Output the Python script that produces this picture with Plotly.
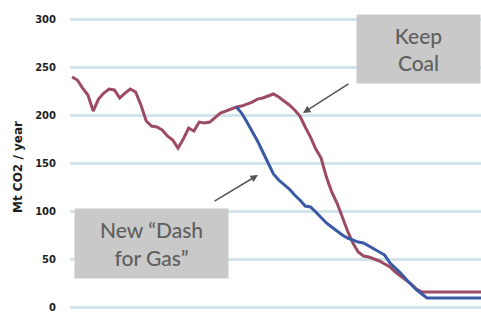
import plotly.graph_objects as go

years = list(range(1970, 2051))

keep_coal = [
    240.3, 237.2, 228.8, 221.5, 204.8, 217.3, 223.6, 227.8, 226.8, 218.4,
    223.6, 227.8, 224.7, 211.1, 194.4, 189.1, 188.1, 185.0, 178.7, 174.5,
    166.1, 175.5, 187.0, 183.9, 193.3, 192.3, 193.3, 198.5, 202.7, 204.8,
    206.9, 209.0, 210.0, 212.1, 214.2, 217.3, 218.4, 220.5, 222.6, 219.4,
    215.3, 211.1, 205.9, 199.6, 188.1, 177.6, 165.1, 155.7, 135.8, 120.2,
    108.7, 94.0, 79.4, 66.9, 57.5, 53.3, 52.2, 50.2, 48.1, 44.9,
    41.8, 36.6, 32.4, 28.2, 24.0, 18.8, 15.7, 15.7, 15.7, 15.7,
    15.7, 15.7, 15.7, 15.7, 15.7, 15.7, 15.7, 15.7, 15.7, 15.7, 15.7,
]

gas_years = list(range(2001, 2051))
dash_for_gas = [
    209.0, 202.7, 193.3, 183.9, 173.5, 162.0, 150.5, 139.0, 132.7, 127.5,
    123.3, 117.0, 111.8, 105.5, 104.5, 99.3, 94.0, 87.8, 83.6, 79.4,
    75.2, 72.1, 70.0, 67.9, 66.9, 63.7, 60.6, 57.5, 54.3, 45.9,
    40.8, 35.5, 29.3, 24.0, 17.8, 13.6, 9.4, 9.4, 9.4, 9.4,
    9.4, 9.4, 9.4, 9.4, 9.4, 9.4, 9.4, 9.4, 9.4, 9.4,
]

y_ticks = [0, 50, 100, 150, 200, 250, 300]
y_title = "Mt CO2 / year"
label_coal = "Keep<br>Coal"
label_gas = "New “Dash<br>for Gas”"

fig = go.Figure()
fig.add_trace(go.Scatter(x=years, y=keep_coal, mode="lines",
                         line=dict(color="#9c4b63", width=3), hoverinfo="skip"))
fig.add_trace(go.Scatter(x=gas_years, y=dash_for_gas, mode="lines",
                         line=dict(color="#3a5aa6", width=3), hoverinfo="skip"))

W, H = 481, 314
L, T = 70, 5
pw, ph = W - L, H - T

def px(x):
    return (x - L) / pw

def py(y):
    return (H - y) / ph

fig.update_layout(
    width=W, height=H,
    margin=dict(l=L, r=0, t=T, b=0),
    paper_bgcolor="white", plot_bgcolor="white",
    showlegend=False,
    xaxis=dict(range=[1969.62, 2047.17], visible=False),
    yaxis=dict(range=[-7.3, 315.6], tickvals=y_ticks, showgrid=True,
               gridcolor="#d3e4eb", gridwidth=2.5, zeroline=False,
               showline=False, ticks="outside", ticklen=11,
               tickcolor="rgba(0,0,0,0)",
               tickfont=dict(family="DejaVu Sans", size=10, color="#1e1e1e",
                             weight="bold"),
               fixedrange=True),
    shapes=[dict(type="rect", xref="paper", yref="y", x0=0.115, x1=1,
                 y0=-3, y1=3, fillcolor="white", line=dict(width=0),
                 layer="between")],
    annotations=[
        dict(text="<b>" + y_title + "</b>", textangle=-90, xref="paper",
             yref="paper", x=px(18), y=py(167), showarrow=False,
             xanchor="center", yanchor="middle",
             font=dict(family="DejaVu Sans", size=12, color="#1e1e1e")),
        dict(text=label_coal, xref="paper", yref="paper", x=px(418.5),
             y=py(49), showarrow=False, xanchor="center", yanchor="middle",
             width=123, height=68, bgcolor="#c9c9c9", borderpad=0,
             font=dict(family="Lato", size=21, color="#5f5f5f", weight=500)),
        dict(text=label_gas, xref="paper", yref="paper", x=px(151.5),
             y=py(243.5), showarrow=False, xanchor="center", yanchor="middle",
             width=153, height=69, bgcolor="#c9c9c9", borderpad=0,
             font=dict(family="Lato", size=21, color="#5f5f5f", weight=500)),
        dict(text="", xref="paper", yref="paper", x=px(303), y=py(113),
             ax=47, ay=-30, showarrow=True, arrowhead=2, arrowsize=1,
             arrowwidth=1.5, arrowcolor="#555555"),
        dict(text="", xref="paper", yref="paper", x=px(258), y=py(175),
             ax=-45, ay=27, showarrow=True, arrowhead=2, arrowsize=1,
             arrowwidth=1.5, arrowcolor="#555555"),
    ],
)

fig.write_html("out.html", config={"displayModeBar": False},
               post_script="document.body.style.margin='0';document.body.style.padding='0';")
